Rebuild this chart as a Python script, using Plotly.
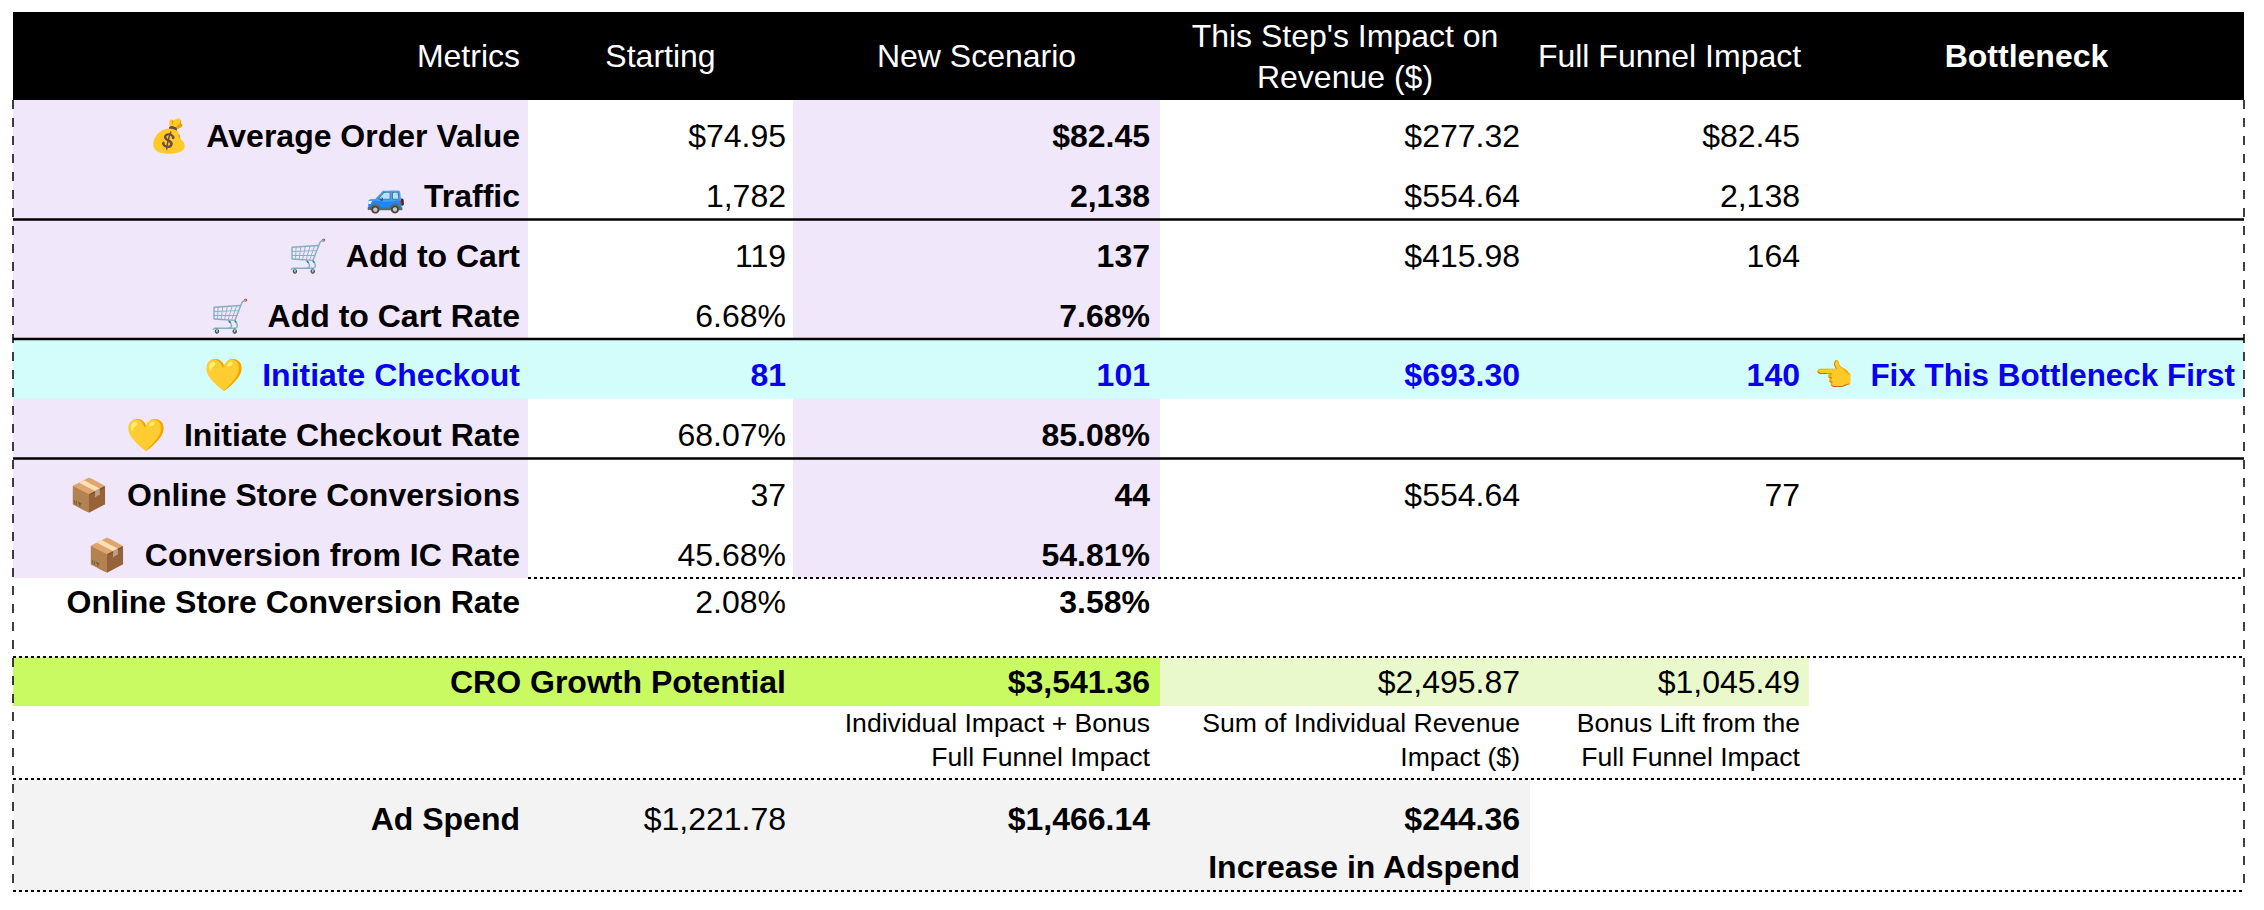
import plotly.graph_objects as go

# ---------------- data ----------------
header_labels = ["Metrics", "Starting", "New Scenario",
                 "This Step's Impact on<br>Revenue ($)", "Full Funnel Impact", "<b>Bottleneck</b>"]
metric_icons = ["💰", "🚙", "🛒", "🛒", "💛", "💛", "📦", "📦", ""]
metric_names = ["Average Order Value", "Traffic", "Add to Cart", "Add to Cart Rate",
                "Initiate Checkout", "Initiate Checkout Rate", "Online Store Conversions",
                "Conversion from IC Rate", "Online Store Conversion Rate"]
value_kinds = ["usd", "int", "int", "pct", "int", "pct", "int", "pct", "pct"]
starting_values = [74.95, 1782, 119, 6.68, 81, 68.07, 37, 45.68, 2.08]
new_scenario_values = [82.45, 2138, 137, 7.68, 101, 85.08, 44, 54.81, 3.58]
step_impact_values = [277.32, 554.64, 415.98, None, 693.30, None, 554.64, None, None]
full_funnel_values = [82.45, 2138, 164, None, 140, None, 77, None, None]
bottleneck_row = 4
bottleneck_icon = "👈"
bottleneck_label = "Fix This Bottleneck First"

cro_label = "CRO Growth Potential"
cro_total = 3541.36
cro_individual_sum = 2495.87
cro_bonus_lift = 1045.49
cro_notes = ["Individual Impact + Bonus<br>Full Funnel Impact",
             "Sum of Individual Revenue<br>Impact ($)",
             "Bonus Lift from the<br>Full Funnel Impact"]

ad_label = "Ad Spend"
ad_spend_start = 1221.78
ad_spend_new = 1466.14
ad_spend_increase = 244.36
ad_increase_label = "Increase in Adspend"


def fmt(v, kind):
    if v is None:
        return ""
    if kind == "usd":
        return f"${v:,.2f}"
    if kind == "int":
        return f"{v:,.0f}"
    return f"{v:.2f}%"


# ---------------- layout / style ----------------
PAGE_W, PAGE_H = 2264, 910
BODY = 8
FONT = "Liberation Sans, Arial, Helvetica, sans-serif"
FS = 32
FS_HEAD = 32
FS_NOTE = 26.6
FS_BOTTLENECK = 31.4
BLACK = "#000000"
BLUE = "#0a00f0"
LAVENDER = "#f0e7fb"
CYAN = "#d3fdfb"
GREEN = "#c9fa62"
LIGHT_GREEN = "#e9f9cb"
GREY = "#f3f3f3"

COL = [13, 528, 793, 1160, 1530, 1809, 2244]
PADS = [8, 7, 10, 10, 9, 9]
HEAD_TOP, HEAD_BOT = 12, 100
ROW_H = 59.75
n_rows = len(metric_names)
row_tops = [HEAD_BOT + i * ROW_H for i in range(n_rows)]
row_caps = [t + 36 for t in row_tops[:-1]] + [602]
CRO_TOP, CRO_BOT = 657, 706
NOTE_TOP, NOTE_BOT = 706, 779
AD_TOP, AD_BOT = 779, 891
DATA_BOT = row_tops[-1]  # 578


def ty(cap_center, fs):
    return cap_center + 0.108 * fs


def right(ci):
    return COL[ci + 1] - PADS[ci]


def center(ci):
    return (COL[ci] + COL[ci + 1]) / 2


fig = go.Figure()


def add_text(xs, ys, texts, colors, size, pos="middle left"):
    fig.add_trace(go.Scatter(
        x=xs, y=ys, text=texts, mode="text", textposition=pos,
        textfont=dict(family=FONT, size=size, color=colors),
        hoverinfo="skip", showlegend=False, cliponaxis=False))


# header
for ci, h in enumerate(header_labels):
    if ci == 0:
        add_text([right(0)], [ty(56, FS_HEAD)], [h], ["white"], FS_HEAD)
    else:
        add_text([center(ci)], [ty(56, FS_HEAD)], [h], ["white"], FS_HEAD, "middle center")

# metric rows
colors = [BLUE if i == bottleneck_row else BLACK for i in range(n_rows)]
ys = [ty(c, FS) for c in row_caps]
labels = []
for icon, name in zip(metric_icons, metric_names):
    labels.append((icon + "\u00a0\u00a0" if icon else "") + "<b>" + name + "</b>")
add_text([right(0)] * n_rows, ys, labels, colors, FS)


def col_texts(values, kinds, bold_all=False):
    out = []
    for i, (v, k) in enumerate(zip(values, kinds)):
        s = fmt(v, k)
        if s and (bold_all or i == bottleneck_row):
            s = "<b>" + s + "</b>"
        out.append(s)
    return out


add_text([right(1)] * n_rows, ys, col_texts(starting_values, value_kinds), colors, FS)
add_text([right(2)] * n_rows, ys, col_texts(new_scenario_values, value_kinds, True), colors, FS)
add_text([right(3)] * n_rows, ys, col_texts(step_impact_values, ["usd"] * n_rows), colors, FS)
add_text([right(4)] * n_rows, ys, col_texts(full_funnel_values, value_kinds), colors, FS)
add_text([right(5)], [ty(row_caps[bottleneck_row], FS_BOTTLENECK)],
         [bottleneck_icon + "\u00a0\u00a0<b>" + bottleneck_label + "</b>"], [BLUE], FS_BOTTLENECK)

# CRO growth potential
cro_y = ty((CRO_TOP + CRO_BOT) / 2, FS)
add_text([right(1), right(2), right(3), right(4)], [cro_y] * 4,
         ["<b>" + cro_label + "</b>", "<b>" + fmt(cro_total, "usd") + "</b>",
          fmt(cro_individual_sum, "usd"), fmt(cro_bonus_lift, "usd")],
         [BLACK] * 4, FS)
note_y = (NOTE_TOP + NOTE_BOT) / 2
add_text([right(2), right(3), right(4)], [note_y] * 3, cro_notes, [BLACK] * 3, FS_NOTE)

# ad spend
ad_y = ty(819, FS)
add_text([right(0), right(1), right(2), right(3)], [ad_y] * 4,
         ["<b>" + ad_label + "</b>", fmt(ad_spend_start, "usd"),
          "<b>" + fmt(ad_spend_new, "usd") + "</b>", "<b>" + fmt(ad_spend_increase, "usd") + "</b>"],
         [BLACK] * 4, FS)
add_text([right(3)], [ty(867, FS)], ["<b>" + ad_increase_label + "</b>"], [BLACK], FS)

# ---------------- shapes ----------------
shapes = []


def rect(x0, x1, y0, y1, color):
    shapes.append(dict(type="rect", xref="x", yref="y", x0=x0, x1=x1, y0=y0, y1=y1,
                       fillcolor=color, line=dict(width=0), layer="below"))


def hline(y, x0, x1, dash="solid", width=2.5):
    shapes.append(dict(type="line", xref="x", yref="y", x0=x0, x1=x1, y0=y, y1=y,
                       line=dict(color=BLACK, width=width, dash=dash), layer="below"))


def vline(x, y0, y1, dash="dash", width=1.5):
    shapes.append(dict(type="line", xref="x", yref="y", x0=x, x1=x, y0=y0, y1=y1,
                       line=dict(color=BLACK, width=width, dash=dash), layer="below"))


rect(COL[0], COL[-1], HEAD_TOP, HEAD_BOT, BLACK)
rect(COL[0], COL[1], HEAD_BOT, DATA_BOT, LAVENDER)
rect(COL[2], COL[3], HEAD_BOT, DATA_BOT, LAVENDER)
rect(COL[0], COL[-1], row_tops[bottleneck_row], row_tops[bottleneck_row + 1], CYAN)
rect(COL[0], COL[3], CRO_TOP, CRO_BOT, GREEN)
rect(COL[3], COL[5], CRO_TOP, CRO_BOT, LIGHT_GREEN)
rect(COL[0], COL[4], AD_TOP, AD_BOT, GREY)

for r in (2, 4, 6):
    hline(row_tops[r], COL[0], COL[-1])
hline(DATA_BOT, COL[1], COL[-1], "dot", 2)
for y in (CRO_TOP, AD_TOP, AD_BOT):
    hline(y, COL[0], COL[-1], "dot", 2)
vline(COL[0], HEAD_BOT, AD_BOT)
vline(COL[-1], HEAD_BOT, AD_BOT)

fig.update_layout(
    width=PAGE_W - 2 * BODY, height=PAGE_H - 2 * BODY, autosize=False,
    margin=dict(l=0, r=0, t=0, b=0, pad=0),
    paper_bgcolor="white", plot_bgcolor="white",
    xaxis=dict(range=[BODY, PAGE_W - BODY], visible=False, fixedrange=True),
    yaxis=dict(range=[PAGE_H - BODY, BODY], visible=False, fixedrange=True),
    shapes=shapes, showlegend=False, hovermode=False,
)

fig.write_html("out.html", config={"displayModeBar": False})
